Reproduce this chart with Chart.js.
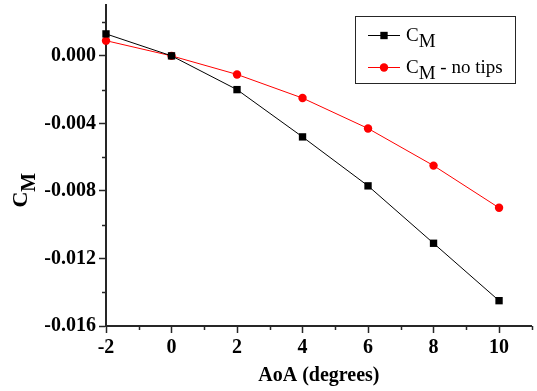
<!DOCTYPE html>
<html>
<head>
<meta charset="utf-8">
<script src="https://cdn.jsdelivr.net/npm/chart.js@4/dist/chart.umd.min.js"></script>
<style>
  html, body { margin: 0; padding: 0; background: #fff; }
  #wrap { width: 537px; height: 391px; }
</style>
</head>
<body>
<div id="wrap"><canvas id="cmChart" width="537" height="391"></canvas></div>
<script>
// Pitching moment vs angle of attack
const aoa = [-2, 0, 2, 4, 6, 8, 10];
const cmTips = [0.0013, 0, -0.002, -0.0048, -0.0077, -0.0111, -0.0145];
const cmNoTips = [0.0009, 0, -0.0011, -0.0025, -0.0043, -0.0065, -0.009];

const xTicks = [-2, 0, 2, 4, 6, 8, 10];
const xMinor = [-1, 1, 3, 5, 7, 9, 11];
const yTicks = [0, -0.004, -0.008, -0.012, -0.016];
const yMinor = [0.002, -0.002, -0.006, -0.010, -0.014];

const seriesNames = ["", " - no tips"];
const AXIS = "#262626";
const SERIF = "'Liberation Serif', 'Times New Roman', serif";

const toPoints = ys => aoa.map((x, i) => ({ x: x, y: ys[i] }));

// short minor ticks + C_M titles with subscripts (built-in text can't do those)
const extras = {
  id: "extras",
  afterDraw(chart) {
    const ctx = chart.ctx;
    const xs = chart.scales.x, ys = chart.scales.y;
    const area = chart.chartArea;

    ctx.save();
    ctx.strokeStyle = AXIS;
    ctx.lineWidth = 1.5;
    xMinor.forEach(v => {
      const px = Math.round(xs.getPixelForValue(v)) + 0.5;
      ctx.beginPath();
      ctx.moveTo(px, area.bottom);
      ctx.lineTo(px, area.bottom + 4);
      ctx.stroke();
    });
    yMinor.forEach(v => {
      const py = Math.round(ys.getPixelForValue(v)) + 0.5;
      ctx.beginPath();
      ctx.moveTo(area.left, py);
      ctx.lineTo(area.left - 4, py);
      ctx.stroke();
    });
    ctx.restore();

    // y axis title: C with subscript M, rotated
    ctx.save();
    ctx.translate(27, (area.top + area.bottom) / 2 + 42);
    ctx.rotate(-Math.PI / 2);
    ctx.fillStyle = "#000";
    ctx.textBaseline = "alphabetic";
    ctx.textAlign = "left";
    ctx.font = "bold 22px " + SERIF;
    ctx.fillText("C", 0, 0);
    const cw = ctx.measureText("C").width;
    ctx.font = "bold 20px " + SERIF;
    ctx.fillText("M", cw, 8);
    ctx.restore();

    // legend box
    const box = { left: 355.5, top: 16.5, width: 160, height: 67 };
    ctx.save();
    ctx.strokeStyle = AXIS;
    ctx.lineWidth = 1;
    ctx.strokeRect(box.left, box.top, box.width, box.height);
    const rows = [35, 67];
    chart.data.datasets.forEach((ds, i) => {
      const y = rows[i];
      ctx.strokeStyle = ds.borderColor;
      ctx.lineWidth = ds.borderWidth;
      ctx.beginPath();
      ctx.moveTo(368, y + 0.5);
      ctx.lineTo(400, y + 0.5);
      ctx.stroke();
      ctx.fillStyle = ds.pointBackgroundColor;
      if (ds.pointStyle === "rect") {
        const s = ds.pointRadius * Math.SQRT1_2;
        ctx.fillRect(384 - s, y + 0.5 - s, 2 * s, 2 * s);
      } else {
        ctx.beginPath();
        ctx.arc(384, y + 0.5, ds.pointRadius, 0, Math.PI * 2);
        ctx.fill();
      }
      ctx.fillStyle = "#000";
      ctx.textBaseline = "alphabetic";
      ctx.textAlign = "left";
      ctx.font = "19px " + SERIF;
      let tx = 406;
      ctx.fillText("C", tx, y + 6);
      tx += ctx.measureText("C").width;
      ctx.fillText("M", tx, y + 12);
      tx += ctx.measureText("M").width;
      if (seriesNames[i]) ctx.fillText(seriesNames[i], tx, y + 6);
    });
    ctx.restore();
  }
};

new Chart(document.getElementById("cmChart"), {
  type: "line",
  data: {
    datasets: [
      {
        label: "CM",
        data: toPoints(cmTips),
        borderColor: "#000000",
        backgroundColor: "#000000",
        pointBackgroundColor: "#000000",
        pointBorderColor: "#000000",
        borderWidth: 1,
        pointStyle: "rect",
        pointRadius: 5.2,
        pointBorderWidth: 0,
        tension: 0
      },
      {
        label: "CM - no tips",
        data: toPoints(cmNoTips),
        borderColor: "#ff0000",
        backgroundColor: "#ff0000",
        pointBackgroundColor: "#ff0000",
        pointBorderColor: "#ff0000",
        borderWidth: 1,
        pointStyle: "circle",
        pointRadius: 4.2,
        pointBorderWidth: 0,
        tension: 0
      }
    ]
  },
  options: {
    responsive: false,
    animation: false,
    clip: false,
    layout: { padding: { top: 5, right: 2, left: 0, bottom: 0 } },
    plugins: {
      legend: { display: false },
      tooltip: { enabled: false }
    },
    scales: {
      x: {
        type: "linear",
        min: -2,
        max: 11,
        afterBuildTicks: s => { s.ticks = xTicks.map(v => ({ value: v })); },
        afterFit: s => { s.height = 65; s.paddingLeft = 0; s.paddingRight = 0; },
        grid: { drawOnChartArea: false, tickLength: 7, tickColor: AXIS, tickWidth: 1.5 },
        border: { color: AXIS, width: 2 },
        ticks: {
          color: "#000",
          padding: 3,
          maxRotation: 0,
          font: { family: SERIF, size: 20, weight: "bold" },
          callback: v => String(v)
        },
        title: {
          display: true,
          text: "AoA (degrees)",
          color: "#000",
          padding: { top: 0, bottom: 3 },
          font: { family: SERIF, size: 20, weight: "bold" }
        }
      },
      y: {
        type: "linear",
        min: -0.016,
        max: 0.003,
        afterBuildTicks: s => { s.ticks = yTicks.map(v => ({ value: v })); },
        afterFit: s => { s.width = 106; s.paddingTop = 0; s.paddingBottom = 0; },
        grid: { drawOnChartArea: false, tickLength: 7, tickColor: AXIS, tickWidth: 1.5 },
        border: { color: AXIS, width: 2 },
        ticks: {
          color: "#000",
          padding: 3,
          font: { family: SERIF, size: 20, weight: "bold" },
          callback: v => v.toFixed(3)
        }
      }
    }
  },
  plugins: [extras]
});
</script>
</body>
</html>
